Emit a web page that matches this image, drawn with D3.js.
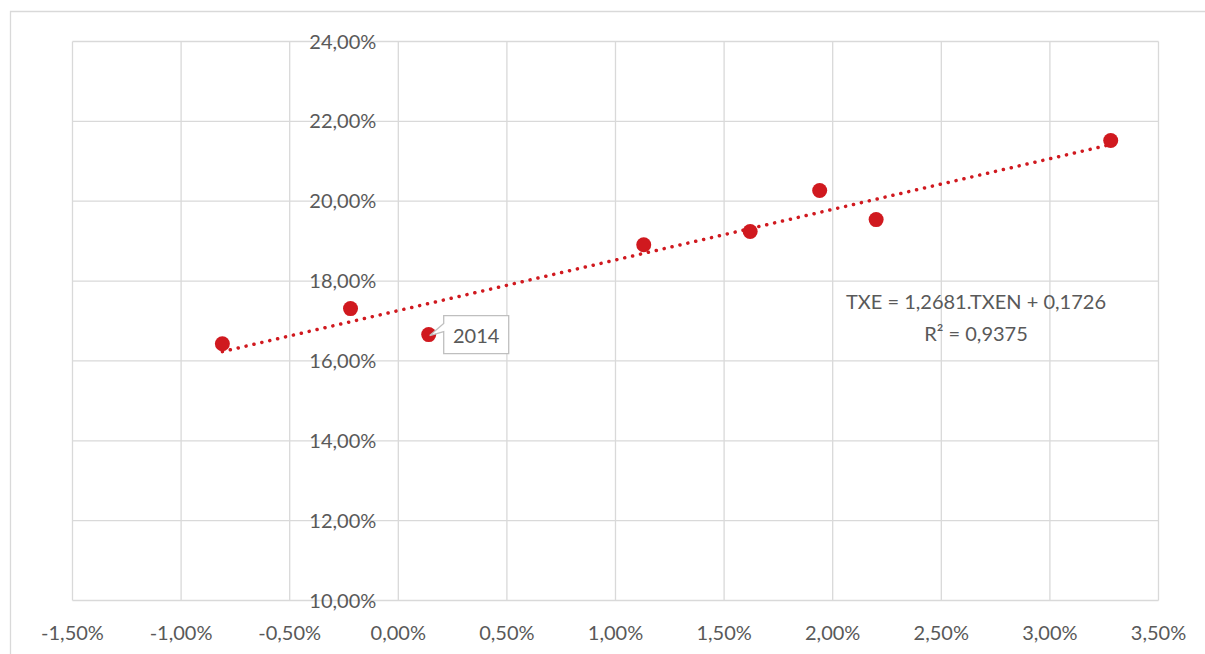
<!DOCTYPE html>
<html><head><meta charset="utf-8">
<script src="https://cdn.jsdelivr.net/npm/d3@7"></script>
<style>body{margin:0;background:#fff}svg{display:block}text{font-family:Lato,"Open Sans",sans-serif;fill:#595959}</style>
</head><body>
<svg id="c" width="1205" height="654"></svg>
<script>
const xTicks = [-0.015,-0.01,-0.005,0,0.005,0.01,0.015,0.02,0.025,0.03,0.035];
const yTicks = [0.10,0.12,0.14,0.16,0.18,0.20,0.22,0.24];
const txen = [-0.0081,-0.0022,0.0014,0.0113,0.0162,0.0194,0.0220,0.0328];
const txe  = [0.1643,0.1731,0.1666,0.1891,0.1924,0.2027,0.1954,0.2152];
const pointLabels = ["","","2014","","","","",""];
const slope = 1.2681, intercept = 0.1726;
const eqLines = ["TXE = 1,2681.TXEN + 0,1726","R² = 0,9375"];

const svg = d3.select("#c");
const red = "#d0191f", grid = "#d9d9d9";
const fmt = v => (v*100).toFixed(2).replace(".",",")+"%";
const x = d3.scaleLinear().domain([-0.015,0.035]).range([72.5,1158.5]);
const y = d3.scaleLinear().domain([0.10,0.24]).range([600.5,41.5]);

// outer border
svg.append("path").attr("d","M10.5,654 V11.5 H1205").attr("fill","none").attr("stroke",grid).attr("stroke-width",1.3);

// grid
svg.append("g").selectAll("line").data(xTicks).join("line")
  .attr("x1",d=>x(d)).attr("x2",d=>x(d)).attr("y1",y(0.24)).attr("y2",y(0.10))
  .attr("stroke",grid).attr("stroke-width",1.3);
svg.append("g").selectAll("line").data(yTicks).join("line")
  .attr("x1",x(-0.015)).attr("x2",x(0.035)).attr("y1",d=>y(d)).attr("y2",d=>y(d))
  .attr("stroke",grid).attr("stroke-width",1.3);

// y axis labels (at x=0)
svg.append("g").selectAll("text").data(yTicks).join("text")
  .attr("x",x(0)-22).attr("y",d=>y(d)).attr("dy","0.35em").attr("text-anchor","end")
  .attr("font-size",20).text(fmt);
// x axis labels
svg.append("g").selectAll("text").data(xTicks).join("text")
  .attr("x",d=>x(d)).attr("y",633).attr("dy","0.35em").attr("text-anchor","middle")
  .attr("font-size",20).text(fmt);

// trendline
const xmin = d3.min(txen), xmax = d3.max(txen);
svg.append("line").attr("x1",x(xmin)).attr("x2",x(xmax))
  .attr("y1",y(slope*xmin+intercept)).attr("y2",y(slope*xmax+intercept))
  .attr("stroke",red).attr("stroke-width",3.5).attr("stroke-linecap","round")
  .attr("stroke-dasharray","0.1 8");

// points
svg.append("g").selectAll("circle").data(txen).join("circle")
  .attr("cx",d=>x(d)).attr("cy",(d,i)=>y(txe[i])).attr("r",7.5).attr("fill",red);

// callout label
pointLabels.forEach((lab,i)=>{
  if(!lab) return;
  const px = x(txen[i]), py = y(txe[i]);
  const bx = px+15, by = py-19, bw = 65, bh = 38;
  svg.append("path")
    .attr("d",`M${bx},${by} H${bx+bw} V${by+bh} H${bx} V${by+16} L${px+1},${py+1} L${bx},${by+8} Z`)
    .attr("fill","#fff").attr("stroke","#bfbfbf").attr("stroke-width",1.3);
  svg.append("text").attr("x",bx+bw/2).attr("y",by+bh/2+1).attr("dy","0.35em")
    .attr("text-anchor","middle").attr("font-size",20).text(lab);
});

// equation
svg.append("g").selectAll("text").data(eqLines).join("text")
  .attr("x",976).attr("y",(d,i)=>302+i*32).attr("dy","0.35em").attr("text-anchor","middle")
  .attr("font-size",20).text(d=>d);
</script>
</body></html>
